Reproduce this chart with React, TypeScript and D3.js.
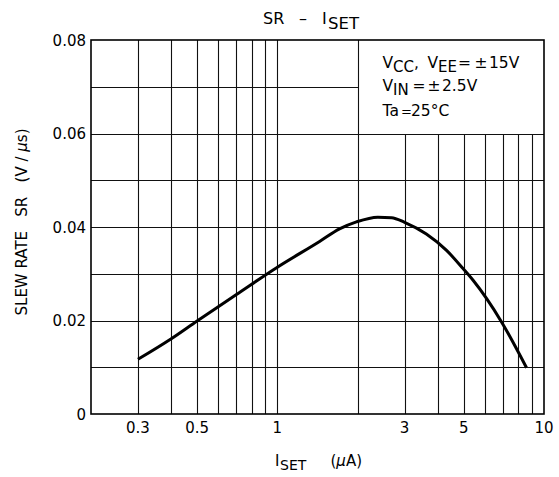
import React, { useEffect, useRef } from "react";
import * as d3 from "d3";

// I_SET (uA) vs slew rate (V/us)
const iset = [0.3, 0.4, 0.5, 0.7, 1.0, 1.44, 1.71, 1.98, 2.38, 2.68, 3.0, 3.62, 4.31, 4.97, 5.42, 6.93, 8.6];
const slewRate = [0.0117, 0.0161, 0.0199, 0.0255, 0.0314, 0.0369, 0.0396, 0.0411, 0.0421, 0.0420, 0.0410, 0.0385, 0.0350, 0.0311, 0.0286, 0.0197, 0.0099];

const xTicks = [0.3, 0.5, 1, 3, 5, 10];
const xTickLabels = ["0.3", "0.5", "1", "3", "5", "10"];
const xGrid = [0.3, 0.4, 0.5, 0.6, 0.7, 0.8, 0.9, 1, 2, 3, 4, 5, 6, 7, 8, 9];
const yTicks = [0, 0.02, 0.04, 0.06, 0.08];
const yTickLabels = ["0", "0.02", "0.04", "0.06", "0.08"];
const yGrid = [0.01, 0.02, 0.03, 0.04, 0.05, 0.06, 0.07];

const FONT = "'DejaVu Sans', Verdana, sans-serif";

const App = () => {
    const ref = useRef<SVGSVGElement>(null);

    useEffect(() => {
        const width = 559;
        const height = 477;
        const margin = { left: 91, right: 15, top: 40, bottom: 63 };
        const w = width - margin.left - margin.right;
        const h = height - margin.top - margin.bottom;

        const svg = d3.select(ref.current);
        svg.selectAll("*").remove();
        svg.attr("width", width).attr("height", height);

        const x = d3.scaleLog().domain([0.2, 10]).range([0, w]);
        const y = d3.scaleLinear().domain([0, 0.08]).range([h, 0]);

        const g = svg.append("g")
            .attr("transform", `translate(${margin.left}, ${margin.top})`);

        // grid - the conditions box in the top right corner hides the lines under it
        const boxX = 2;
        const boxY = 0.06;
        g.selectAll(".vgrid")
            .data(xGrid)
            .enter()
            .append("line")
            .attr("x1", d => Math.round(x(d)) + 0.5)
            .attr("x2", d => Math.round(x(d)) + 0.5)
            .attr("y1", d => d > boxX ? Math.round(y(boxY)) : 0)
            .attr("y2", h)
            .attr("stroke", "#111")
            .attr("stroke-width", 1.1);

        g.selectAll(".hgrid")
            .data(yGrid)
            .enter()
            .append("line")
            .attr("x1", 0)
            .attr("x2", d => d > boxY ? Math.round(x(boxX)) : w)
            .attr("y1", d => Math.round(y(d)) + 0.5)
            .attr("y2", d => Math.round(y(d)) + 0.5)
            .attr("stroke", "#111")
            .attr("stroke-width", 1.1);

        // frame
        g.append("rect")
            .attr("x", 0)
            .attr("y", 0)
            .attr("width", w)
            .attr("height", h)
            .attr("fill", "none")
            .attr("stroke", "#000")
            .attr("stroke-width", 1.6);

        // curve
        const pts: [number, number][] = iset.map((v, i) => [x(v), y(slewRate[i])]);
        g.append("path")
            .attr("d", d3.line().curve(d3.curveMonotoneX)(pts))
            .attr("fill", "none")
            .attr("stroke", "#000")
            .attr("stroke-width", 3);

        // tick labels
        g.selectAll(".xlab")
            .data(xTicks)
            .enter()
            .append("text")
            .attr("x", d => x(d))
            .attr("y", h + 19)
            .attr("text-anchor", "middle")
            .attr("font-family", FONT)
            .attr("font-size", 15)
            .text((d, i) => xTickLabels[i]);

        g.selectAll(".ylab")
            .data(yTicks)
            .enter()
            .append("text")
            .attr("x", -5)
            .attr("y", d => y(d) + 5.5)
            .attr("text-anchor", "end")
            .attr("font-family", FONT)
            .attr("font-size", 15)
            .text((d, i) => yTickLabels[i]);

        // title
        const title = svg.append("g").attr("font-family", FONT);
        title.append("text").attr("x", 263).attr("y", 23.5).attr("font-size", 16).text("SR");
        title.append("text").attr("x", 303).attr("y", 23.5).attr("font-size", 16)
            .attr("text-anchor", "middle").text("–");
        title.append("text").attr("x", 322).attr("y", 23.5).attr("font-size", 16).text("I");
        title.append("text").attr("x", 328).attr("y", 29).attr("font-size", 16.5).text("SET");

        // x axis label
        const xl = svg.append("g").attr("font-family", FONT).attr("font-size", 15);
        xl.append("text").attr("x", 275).attr("y", 466).text("I");
        xl.append("text").attr("x", 280).attr("y", 470).attr("font-size", 14).text("SET");
        const xu = xl.append("text").attr("x", 362).attr("y", 466).attr("text-anchor", "end");
        xu.append("tspan").text("(");
        xu.append("tspan").attr("font-style", "italic").text("μ");
        xu.append("tspan").text("A)");

        // y axis label
        const yl = svg.append("text")
            .attr("transform", "translate(27, 222) rotate(-90)")
            .attr("text-anchor", "middle")
            .attr("font-family", FONT)
            .attr("font-size", 15)
            .style("white-space", "pre");
        yl.append("tspan").text("SLEW RATE   SR   (V / ");
        yl.append("tspan").attr("font-style", "italic").text("μ");
        yl.append("tspan").text("s)");

        // conditions
        const cond = svg.append("g")
            .attr("font-family", FONT)
            .attr("font-size", 15.5);
        const put = (sx: number, sy: number, s: string, size?: number) => {
            const t = cond.append("text").attr("x", sx).attr("y", sy).text(s);
            if (size) t.attr("font-size", size);
        };
        put(382.5, 68, "V");
        put(393, 72, "CC", 15);
        put(414, 68, ",");
        put(427.5, 68, "V");
        put(438, 72, "EE", 15);
        put(458, 68, "=");
        put(474.5, 68, "±");
        put(489, 68, "15V");

        put(382.5, 91, "V");
        put(393, 95, "IN", 15);
        put(412.5, 91, "=");
        put(427.5, 91, "±");
        put(442, 91, "2.5V");

        put(382.5, 116, "Ta");
        put(401, 116, "=", 13);
        put(411, 116, "25°C");
    }, []);

    return (
        <svg ref={ref} style={{ position: "absolute", left: 0, top: 0, background: "#fff" }}></svg>
    );
};

export default App;
